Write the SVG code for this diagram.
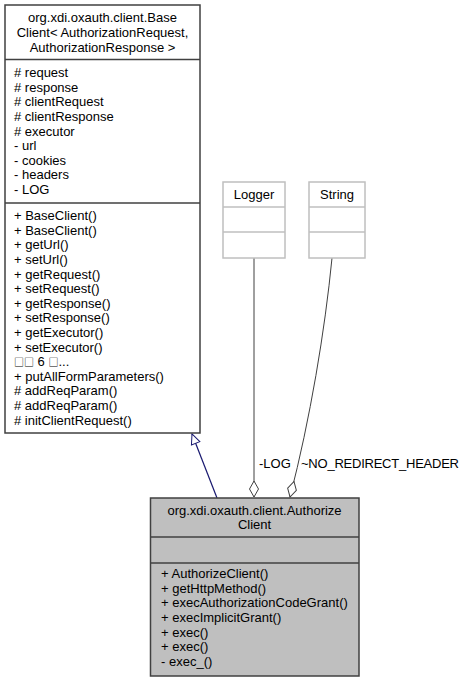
<svg xmlns="http://www.w3.org/2000/svg" width="468" height="683" viewBox="0 0 468 683">
<style>
text{font-family:"Liberation Sans",Arial,sans-serif;font-size:13px;fill:#000}
.c{text-anchor:middle}
.cjk{font-family:"Noto Sans CJK SC",sans-serif;font-size:10px}
.box{fill:#fff;stroke:#404040;stroke-width:1.5}
.lbox{fill:#fff;stroke:#bfbfbf;stroke-width:1.5}
.gbox{fill:#bfbfbf;stroke:#404040;stroke-width:1.5}
.ln{fill:none;stroke:#404040;stroke-width:1.5}
.ll{fill:none;stroke:#bfbfbf;stroke-width:1.5}
.agg{fill:none;stroke:#404040;stroke-width:1}
.inh{fill:none;stroke:#191970;stroke-width:1.2}
</style>
<defs>
<marker id="tri" viewBox="0 0 12 12" refX="11" refY="6" markerWidth="12" markerHeight="12" markerUnits="userSpaceOnUse" orient="auto">
<path d="M11,6 L1,1.5 L1,10.5 Z" fill="#fff" stroke="#191970" stroke-width="1"/>
</marker>
<marker id="dia" viewBox="0 0 18 12" refX="17" refY="6" markerWidth="18" markerHeight="12" markerUnits="userSpaceOnUse" orient="auto">
<path d="M1,6 L9,1.5 L17,6 L9,10.5 Z" fill="#fff" stroke="#404040" stroke-width="1"/>
</marker>
</defs>
<g id="connectors">
<path class="inh" d="M217,498 L192,434" marker-end="url(#tri)"/>
<path class="agg" d="M254,258 L254,497" marker-end="url(#dia)"/>
<path class="agg" d="M332,258 C325,330 310,420 290,497" marker-end="url(#dia)"/>
<text x="259" y="468">-LOG</text>
<text x="301" y="468" textLength="158">~NO_REDIRECT_HEADER</text>
</g>
<g id="BaseClient">
<rect class="box" x="5" y="5" width="195" height="428"/>
<line class="ln" x1="5" y1="59.5" x2="200" y2="59.5"/>
<line class="ln" x1="5" y1="203" x2="200" y2="203"/>
<text class="c" x="102.5" y="21.5">org.xdi.oxauth.client.Base</text>
<text class="c" x="102.5" y="36.5">Client&lt; AuthorizationRequest,</text>
<text class="c" x="102.5" y="51.5">AuthorizationResponse &gt;</text>
<text x="14" y="77"># request</text>
<text x="14" y="91.5"># response</text>
<text x="14" y="106"># clientRequest</text>
<text x="14" y="120.5"># clientResponse</text>
<text x="14" y="135.5"># executor</text>
<text x="14" y="150">- url</text>
<text x="14" y="164.5">- cookies</text>
<text x="14" y="179">- headers</text>
<text x="14" y="193.5">- LOG</text>
<text x="14" y="220">+ BaseClient()</text>
<text x="14" y="234.5">+ BaseClient()</text>
<text x="14" y="249">+ getUrl()</text>
<text x="14" y="263.5">+ setUrl()</text>
<text x="14" y="278.5">+ getRequest()</text>
<text x="14" y="293">+ setRequest()</text>
<text x="14" y="307.5">+ getResponse()</text>
<text x="14" y="322">+ setResponse()</text>
<text x="14" y="336.5">+ getExecutor()</text>
<text x="14" y="351.5">+ setExecutor()</text>
<text x="14" y="366"><tspan class="cjk">□□</tspan> 6 <tspan class="cjk">□</tspan>...</text>
<text x="14" y="380.5">+ putAllFormParameters()</text>
<text x="14" y="395"># addReqParam()</text>
<text x="14" y="409.5"># addReqParam()</text>
<text x="14" y="424.5"># initClientRequest()</text>
</g>
<g id="Logger">
<rect class="lbox" x="223" y="182" width="62" height="76"/>
<line class="ll" x1="223" y1="207" x2="285" y2="207"/>
<line class="ll" x1="223" y1="232" x2="285" y2="232"/>
<text class="c" x="254" y="198.5">Logger</text>
</g>
<g id="String">
<rect class="lbox" x="309" y="182" width="56" height="76"/>
<line class="ll" x1="309" y1="207" x2="365" y2="207"/>
<line class="ll" x1="309" y1="232" x2="365" y2="232"/>
<text class="c" x="337" y="198.5">String</text>
</g>
<g id="AuthorizeClient">
<rect class="gbox" x="150.5" y="498" width="208.5" height="178"/>
<line class="ln" x1="150.5" y1="537" x2="359" y2="537"/>
<line class="ln" x1="150.5" y1="563" x2="359" y2="563"/>
<text class="c" x="254.5" y="514.5">org.xdi.oxauth.client.Authorize</text>
<text class="c" x="254.5" y="529">Client</text>
<text x="161" y="578">+ AuthorizeClient()</text>
<text x="161" y="592.5">+ getHttpMethod()</text>
<text x="161" y="607">+ execAuthorizationCodeGrant()</text>
<text x="161" y="621.5">+ execImplicitGrant()</text>
<text x="161" y="636.5">+ exec()</text>
<text x="161" y="651">+ exec()</text>
<text x="161" y="665.5">- exec_()</text>
</g>
</svg>
